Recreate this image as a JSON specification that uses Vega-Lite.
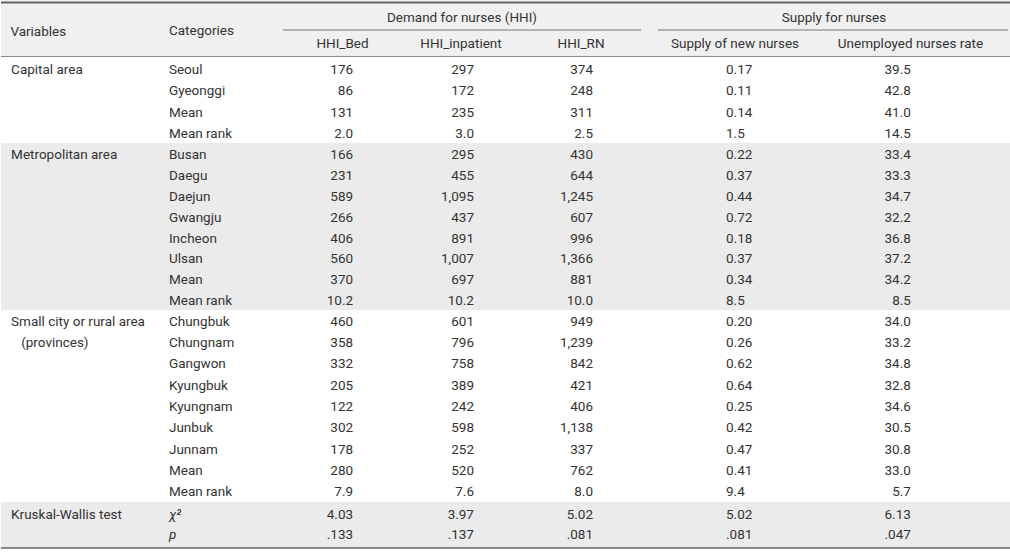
{
  "$schema": "https://vega.github.io/schema/vega-lite/v6.json",
  "padding": 0,
  "spacing": 0,
  "background": "white",
  "config": {
    "view": {"stroke": null},
    "axis": {"disable": true},
    "text": {"font": "Roboto", "fontSize": 13.5, "fontWeight": 400, "fill": "#333333"}
  },
  "resolve": {"scale": {"x": "shared", "y": "independent"}},
  "data": {"values": [
    {"section": "capital", "Variables": "Capital area", "Categories": "Seoul", "HHI_Bed": "176", "HHI_inpatient": "297", "HHI_RN": "374", "supply_new": "0.17", "unemployed_rate": "39.5"},
    {"section": "capital", "Categories": "Gyeonggi", "HHI_Bed": "86", "HHI_inpatient": "172", "HHI_RN": "248", "supply_new": "0.11", "unemployed_rate": "42.8"},
    {"section": "capital", "Categories": "Mean", "HHI_Bed": "131", "HHI_inpatient": "235", "HHI_RN": "311", "supply_new": "0.14", "unemployed_rate": "41.0"},
    {"section": "capital", "Categories": "Mean rank", "HHI_Bed": "2.0", "HHI_inpatient": "3.0", "HHI_RN": "2.5", "supply_new": "1.5", "unemployed_rate": "14.5"},
    {"section": "metro", "Variables": "Metropolitan area", "Categories": "Busan", "HHI_Bed": "166", "HHI_inpatient": "295", "HHI_RN": "430", "supply_new": "0.22", "unemployed_rate": "33.4"},
    {"section": "metro", "Categories": "Daegu", "HHI_Bed": "231", "HHI_inpatient": "455", "HHI_RN": "644", "supply_new": "0.37", "unemployed_rate": "33.3"},
    {"section": "metro", "Categories": "Daejun", "HHI_Bed": "589", "HHI_inpatient": "1,095", "HHI_RN": "1,245", "supply_new": "0.44", "unemployed_rate": "34.7"},
    {"section": "metro", "Categories": "Gwangju", "HHI_Bed": "266", "HHI_inpatient": "437", "HHI_RN": "607", "supply_new": "0.72", "unemployed_rate": "32.2"},
    {"section": "metro", "Categories": "Incheon", "HHI_Bed": "406", "HHI_inpatient": "891", "HHI_RN": "996", "supply_new": "0.18", "unemployed_rate": "36.8"},
    {"section": "metro", "Categories": "Ulsan", "HHI_Bed": "560", "HHI_inpatient": "1,007", "HHI_RN": "1,366", "supply_new": "0.37", "unemployed_rate": "37.2"},
    {"section": "metro", "Categories": "Mean", "HHI_Bed": "370", "HHI_inpatient": "697", "HHI_RN": "881", "supply_new": "0.34", "unemployed_rate": "34.2"},
    {"section": "metro", "Categories": "Mean rank", "HHI_Bed": "10.2", "HHI_inpatient": "10.2", "HHI_RN": "10.0", "supply_new": "8.5", "unemployed_rate": "8.5"},
    {"section": "small", "Variables": "Small city or rural area", "Categories": "Chungbuk", "HHI_Bed": "460", "HHI_inpatient": "601", "HHI_RN": "949", "supply_new": "0.20", "unemployed_rate": "34.0"},
    {"section": "small", "Variables": "\u200b\u00a0\u00a0\u00a0(provinces)", "Categories": "Chungnam", "HHI_Bed": "358", "HHI_inpatient": "796", "HHI_RN": "1,239", "supply_new": "0.26", "unemployed_rate": "33.2"},
    {"section": "small", "Categories": "Gangwon", "HHI_Bed": "332", "HHI_inpatient": "758", "HHI_RN": "842", "supply_new": "0.62", "unemployed_rate": "34.8"},
    {"section": "small", "Categories": "Kyungbuk", "HHI_Bed": "205", "HHI_inpatient": "389", "HHI_RN": "421", "supply_new": "0.64", "unemployed_rate": "32.8"},
    {"section": "small", "Categories": "Kyungnam", "HHI_Bed": "122", "HHI_inpatient": "242", "HHI_RN": "406", "supply_new": "0.25", "unemployed_rate": "34.6"},
    {"section": "small", "Categories": "Junbuk", "HHI_Bed": "302", "HHI_inpatient": "598", "HHI_RN": "1,138", "supply_new": "0.42", "unemployed_rate": "30.5"},
    {"section": "small", "Categories": "Junnam", "HHI_Bed": "178", "HHI_inpatient": "252", "HHI_RN": "337", "supply_new": "0.47", "unemployed_rate": "30.8"},
    {"section": "small", "Categories": "Mean", "HHI_Bed": "280", "HHI_inpatient": "520", "HHI_RN": "762", "supply_new": "0.41", "unemployed_rate": "33.0"},
    {"section": "small", "Categories": "Mean rank", "HHI_Bed": "7.9", "HHI_inpatient": "7.6", "HHI_RN": "8.0", "supply_new": "9.4", "unemployed_rate": "5.7"},
    {"section": "kw", "Variables": "Kruskal-Wallis test", "Categories": "χ²", "HHI_Bed": "4.03", "HHI_inpatient": "3.97", "HHI_RN": "5.02", "supply_new": "5.02", "unemployed_rate": "6.13"},
    {"section": "kw", "Categories": "p", "HHI_Bed": ".133", "HHI_inpatient": ".137", "HHI_RN": ".081", "supply_new": ".081", "unemployed_rate": ".047"}
  ]},
  "vconcat": [
    {
      "width": 1010, "height": 57,
      "view": {"fill": "#f0f0f0", "stroke": null},
      "transform": [{"filter": "datum.section === 'kw' && datum.Categories === 'p'"}],
      "layer": [
        {"mark": {"type": "rule", "color": "#666666", "strokeWidth": 2},
         "encoding": {"y": {"datum": "h1", "type": "nominal", "bandPosition": -0.02, "scale": {"domain": ["h1", "h2"], "paddingInner": 0, "paddingOuter": 0.0556, "align": 1}}}},
        {"mark": {"type": "rule", "color": "#888888", "strokeWidth": 1},
         "encoding": {"y": {"datum": "h2", "type": "nominal", "bandPosition": 0.98}}},
        {"mark": {"type": "rule", "color": "#777777", "strokeWidth": 1},
         "encoding": {"x": {"datum": "Categories", "type": "nominal", "bandPosition": 0.954, "scale": {"domain": ["Variables", "Categories", "HHI_Bed", "HHI_inpatient", "HHI_RN", "Supply of new nurses", "Unemployed nurses rate"], "paddingInner": 0, "paddingOuter": 0}},
                      "x2": {"datum": "HHI_RN", "bandPosition": 0.436},
                      "y": {"datum": "h1", "type": "nominal", "bandPosition": 1.0}}},
        {"mark": {"type": "rule", "color": "#777777", "strokeWidth": 1},
         "encoding": {"x": {"datum": "HHI_RN", "type": "nominal", "bandPosition": 0.553},
                      "x2": {"datum": "Unemployed nurses rate", "bandPosition": 0.979},
                      "y": {"datum": "h1", "type": "nominal", "bandPosition": 1.0}}},
        {"mark": {"type": "text", "align": "left"},
         "encoding": {"x": {"datum": "Variables", "type": "nominal", "bandPosition": 0.065}, "y": {"datum": "h1", "type": "nominal", "bandPosition": 1.056}, "text": {"value": "Variables"}}},
        {"mark": {"type": "text", "align": "left"},
         "encoding": {"x": {"datum": "Categories", "type": "nominal", "bandPosition": 0.164}, "y": {"datum": "h1", "type": "nominal", "bandPosition": 1.03}, "text": {"value": "Categories"}}},
        {"mark": {"type": "text", "align": "center"},
         "encoding": {"x": {"datum": "HHI_inpatient", "type": "nominal", "bandPosition": 0.195}, "y": {"datum": "h1", "type": "nominal", "bandPosition": 0.55}, "text": {"value": "Demand for nurses (HHI)"}}},
        {"mark": {"type": "text", "align": "center"},
         "encoding": {"x": {"datum": "Supply of new nurses", "type": "nominal", "bandPosition": 0.773}, "y": {"datum": "h1", "type": "nominal", "bandPosition": 0.55}, "text": {"value": "Supply for nurses"}}},
        {"mark": {"type": "text", "align": "center"},
         "encoding": {"x": {"datum": "HHI_Bed", "type": "nominal", "bandPosition": 0.367}, "y": {"datum": "h2", "type": "nominal", "bandPosition": 0.53}, "text": {"value": "HHI_Bed"}}},
        {"mark": {"type": "text", "align": "center"},
         "encoding": {"x": {"datum": "HHI_inpatient", "type": "nominal", "bandPosition": 0.188}, "y": {"datum": "h2", "type": "nominal", "bandPosition": 0.53}, "text": {"value": "HHI_inpatient"}}},
        {"mark": {"type": "text", "align": "center"},
         "encoding": {"x": {"datum": "HHI_RN", "type": "nominal", "bandPosition": 0.02}, "y": {"datum": "h2", "type": "nominal", "bandPosition": 0.53}, "text": {"value": "HHI_RN"}}},
        {"mark": {"type": "text", "align": "center"},
         "encoding": {"x": {"datum": "Supply of new nurses", "type": "nominal", "bandPosition": 0.087}, "y": {"datum": "h2", "type": "nominal", "bandPosition": 0.53}, "text": {"value": "Supply of new nurses"}}},
        {"mark": {"type": "text", "align": "center"},
         "encoding": {"x": {"datum": "Unemployed nurses rate", "type": "nominal", "bandPosition": 0.303}, "y": {"datum": "h2", "type": "nominal", "bandPosition": 0.53}, "text": {"value": "Unemployed nurses rate"}}}
      ]
    },
    {
      "width": 1010, "height": 86,
      "transform": [{"filter": "datum.section === 'capital'"}],
      "encoding": {"y": {"field": "Categories", "type": "nominal", "sort": null, "scale": {"paddingInner": 0, "paddingOuter": 0.312, "align": 0.586}}},
      "layer": [
        {"transform": [{"filter": "isValid(datum.Variables)"}], "mark": {"type": "text", "align": "left"},
         "encoding": {"x": {"datum": "Variables", "type": "nominal", "bandPosition": 0.07, "scale": {"domain": ["Variables", "Categories", "HHI_Bed", "HHI_inpatient", "HHI_RN", "Supply of new nurses", "Unemployed nurses rate"], "paddingInner": 0, "paddingOuter": 0}}, "text": {"field": "Variables"}}},
        {"mark": {"type": "text", "align": "left"}, "encoding": {"x": {"datum": "Categories", "type": "nominal", "bandPosition": 0.164}, "text": {"field": "Categories"}}},
        {"mark": {"type": "text", "align": "right"}, "encoding": {"x": {"datum": "HHI_Bed", "type": "nominal", "bandPosition": 0.44}, "text": {"field": "HHI_Bed"}}},
        {"mark": {"type": "text", "align": "right"}, "encoding": {"x": {"datum": "HHI_inpatient", "type": "nominal", "bandPosition": 0.278}, "text": {"field": "HHI_inpatient"}}},
        {"mark": {"type": "text", "align": "right"}, "encoding": {"x": {"datum": "HHI_RN", "type": "nominal", "bandPosition": 0.103}, "text": {"field": "HHI_RN"}}},
        {"mark": {"type": "text", "align": "left"}, "encoding": {"x": {"datum": "Supply of new nurses", "type": "nominal", "bandPosition": 0.025}, "text": {"field": "supply_new"}}},
        {"mark": {"type": "text", "align": "right"}, "encoding": {"x": {"datum": "Unemployed nurses rate", "type": "nominal", "bandPosition": 0.306}, "text": {"field": "unemployed_rate"}}}
      ]
    },
    {
      "width": 1010, "height": 167,
      "view": {"fill": "#ebebeb", "stroke": null},
      "transform": [{"filter": "datum.section === 'metro'"}],
      "encoding": {"y": {"field": "Categories", "type": "nominal", "sort": null, "scale": {"paddingInner": 0, "paddingOuter": 0.349, "align": 0.575}}},
      "layer": [
        {"transform": [{"filter": "isValid(datum.Variables)"}], "mark": {"type": "text", "align": "left"},
         "encoding": {"x": {"datum": "Variables", "type": "nominal", "bandPosition": 0.07, "scale": {"domain": ["Variables", "Categories", "HHI_Bed", "HHI_inpatient", "HHI_RN", "Supply of new nurses", "Unemployed nurses rate"], "paddingInner": 0, "paddingOuter": 0}}, "text": {"field": "Variables"}}},
        {"mark": {"type": "text", "align": "left"}, "encoding": {"x": {"datum": "Categories", "type": "nominal", "bandPosition": 0.164}, "text": {"field": "Categories"}}},
        {"mark": {"type": "text", "align": "right"}, "encoding": {"x": {"datum": "HHI_Bed", "type": "nominal", "bandPosition": 0.44}, "text": {"field": "HHI_Bed"}}},
        {"mark": {"type": "text", "align": "right"}, "encoding": {"x": {"datum": "HHI_inpatient", "type": "nominal", "bandPosition": 0.278}, "text": {"field": "HHI_inpatient"}}},
        {"mark": {"type": "text", "align": "right"}, "encoding": {"x": {"datum": "HHI_RN", "type": "nominal", "bandPosition": 0.103}, "text": {"field": "HHI_RN"}}},
        {"mark": {"type": "text", "align": "left"}, "encoding": {"x": {"datum": "Supply of new nurses", "type": "nominal", "bandPosition": 0.025}, "text": {"field": "supply_new"}}},
        {"mark": {"type": "text", "align": "right"}, "encoding": {"x": {"datum": "Unemployed nurses rate", "type": "nominal", "bandPosition": 0.306}, "text": {"field": "unemployed_rate"}}}
      ]
    },
    {
      "width": 1010, "height": 192,
      "transform": [{"filter": "datum.section === 'small'"}],
      "encoding": {"y": {"field": "Categories", "type": "nominal", "sort": null, "scale": {"paddingInner": 0, "paddingOuter": 0.3, "align": 0.54}}},
      "layer": [
        {"transform": [{"filter": "isValid(datum.Variables)"}], "mark": {"type": "text", "align": "left"},
         "encoding": {"x": {"datum": "Variables", "type": "nominal", "bandPosition": 0.07, "scale": {"domain": ["Variables", "Categories", "HHI_Bed", "HHI_inpatient", "HHI_RN", "Supply of new nurses", "Unemployed nurses rate"], "paddingInner": 0, "paddingOuter": 0}}, "text": {"field": "Variables"}}},
        {"mark": {"type": "text", "align": "left"}, "encoding": {"x": {"datum": "Categories", "type": "nominal", "bandPosition": 0.164}, "text": {"field": "Categories"}}},
        {"mark": {"type": "text", "align": "right"}, "encoding": {"x": {"datum": "HHI_Bed", "type": "nominal", "bandPosition": 0.44}, "text": {"field": "HHI_Bed"}}},
        {"mark": {"type": "text", "align": "right"}, "encoding": {"x": {"datum": "HHI_inpatient", "type": "nominal", "bandPosition": 0.278}, "text": {"field": "HHI_inpatient"}}},
        {"mark": {"type": "text", "align": "right"}, "encoding": {"x": {"datum": "HHI_RN", "type": "nominal", "bandPosition": 0.103}, "text": {"field": "HHI_RN"}}},
        {"mark": {"type": "text", "align": "left"}, "encoding": {"x": {"datum": "Supply of new nurses", "type": "nominal", "bandPosition": 0.025}, "text": {"field": "supply_new"}}},
        {"mark": {"type": "text", "align": "right"}, "encoding": {"x": {"datum": "Unemployed nurses rate", "type": "nominal", "bandPosition": 0.306}, "text": {"field": "unemployed_rate"}}}
      ]
    },
    {
      "width": 1010, "height": 46,
      "view": {"fill": "#ebebeb", "stroke": null},
      "transform": [{"filter": "datum.section === 'kw'"}],
      "encoding": {"y": {"field": "Categories", "type": "nominal", "sort": null, "scale": {"paddingInner": 0, "paddingOuter": 0.168, "align": 0.55}}},
      "layer": [
        {"transform": [{"filter": "isValid(datum.Variables)"}], "mark": {"type": "text", "align": "left"},
         "encoding": {"x": {"datum": "Variables", "type": "nominal", "bandPosition": 0.07, "scale": {"domain": ["Variables", "Categories", "HHI_Bed", "HHI_inpatient", "HHI_RN", "Supply of new nurses", "Unemployed nurses rate"], "paddingInner": 0, "paddingOuter": 0}}, "text": {"field": "Variables"}}},
        {"mark": {"type": "text", "align": "left", "fontStyle": "italic"}, "encoding": {"x": {"datum": "Categories", "type": "nominal", "bandPosition": 0.164}, "text": {"field": "Categories"}}},
        {"mark": {"type": "text", "align": "right"}, "encoding": {"x": {"datum": "HHI_Bed", "type": "nominal", "bandPosition": 0.44}, "text": {"field": "HHI_Bed"}}},
        {"mark": {"type": "text", "align": "right"}, "encoding": {"x": {"datum": "HHI_inpatient", "type": "nominal", "bandPosition": 0.278}, "text": {"field": "HHI_inpatient"}}},
        {"mark": {"type": "text", "align": "right"}, "encoding": {"x": {"datum": "HHI_RN", "type": "nominal", "bandPosition": 0.103}, "text": {"field": "HHI_RN"}}},
        {"mark": {"type": "text", "align": "left"}, "encoding": {"x": {"datum": "Supply of new nurses", "type": "nominal", "bandPosition": 0.025}, "text": {"field": "supply_new"}}},
        {"mark": {"type": "text", "align": "right"}, "encoding": {"x": {"datum": "Unemployed nurses rate", "type": "nominal", "bandPosition": 0.306}, "text": {"field": "unemployed_rate"}}},
        {"transform": [{"filter": "datum.Categories === 'p'"}], "mark": {"type": "rule", "color": "#888888", "strokeWidth": 2},
         "encoding": {"y": {"field": "Categories", "type": "nominal", "bandPosition": 1.15}}}
      ]
    }
  ]
}
